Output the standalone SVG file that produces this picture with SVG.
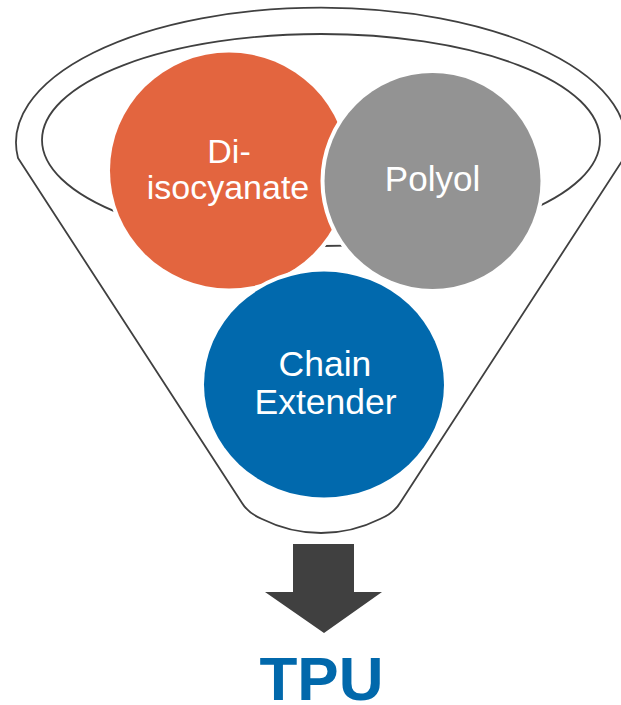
<svg xmlns="http://www.w3.org/2000/svg" width="621" height="705" viewBox="0 0 621 705">
  <style>
    .outline { fill: none; stroke: #404040; stroke-width: 1.8; }
    .ball { stroke: #ffffff; stroke-width: 8; paint-order: stroke; }
    .label { font-family: "Liberation Sans", Arial, sans-serif; fill: #ffffff; text-anchor: middle; }
  </style>

  <!-- funnel body: rim arc on top, tapered sides, rounded spout -->
  <g id="funnel">
    <path class="outline" d="M 18 158 L 242 503 Q 248 513 262 519 Q 290 533 321 533 Q 352 533 380 519 Q 394 513 400 503 L 624 158 A 305 135 0 1 0 18 158 Z"/>
    <ellipse class="outline" cx="321" cy="140" rx="279" ry="106"/>
  </g>

  <g id="diisocyanate">
    <ellipse class="ball" cx="229" cy="170.5" rx="119" ry="118" fill="#E3653F"/>
    <text class="label" font-size="34" x="229" y="162.5">Di-</text>
    <text class="label" font-size="34" x="228" y="199">isocyanate</text>
  </g>

  <g id="polyol">
    <circle class="ball" cx="432.5" cy="181" r="108" fill="#939393"/>
    <text class="label" font-size="35" x="432.5" y="191">Polyol</text>
  </g>

  <g id="chain-extender">
    <ellipse class="ball" cx="324" cy="384.5" rx="120" ry="113" fill="#0169AD"/>
    <text class="label" font-size="35.5" x="325" y="375.5">Chain</text>
    <text class="label" font-size="35.5" x="325.5" y="414">Extender</text>
  </g>

  <g id="connectors">
    <polygon points="293,544 354,544 354,592 382,592 324,633 265,592 293,592" fill="#404040"/>
  </g>

  <g id="tpu">
    <text x="321.5" y="700" font-family="Liberation Sans, Arial, sans-serif" font-weight="bold" font-size="62" fill="#0168AB" text-anchor="middle">TPU</text>
  </g>
</svg>
